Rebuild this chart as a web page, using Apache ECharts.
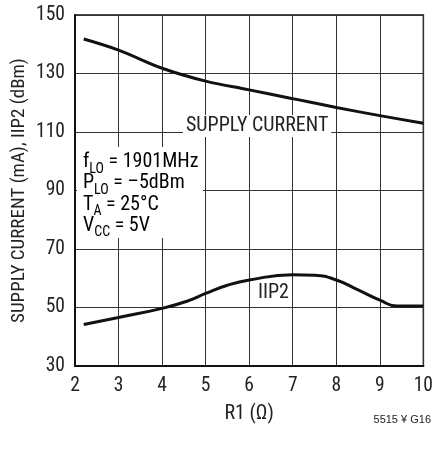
<!DOCTYPE html>
<html><head><meta charset="utf-8">
<script src="https://cdn.jsdelivr.net/npm/echarts@6/dist/echarts.min.js"></script>
<style>html,body{margin:0;padding:0;background:#fff}#c{width:436px;height:449px}</style>
</head><body><div id="c"></div>
<script>
const supplyX = [2.2, 3, 4, 5, 6, 7, 8, 9, 10];
const supplyY = [141.8, 138, 131.8, 127.4, 124.4, 121.4, 118.4, 115.6, 113];
const iip2X = [2.2, 3, 4, 4.6, 5, 5.5, 6, 7, 7.5, 8, 8.5, 9, 9.4, 10];
const iip2Y = [44.2, 46.6, 49.7, 52.3, 54.8, 57.6, 59.4, 61.2, 61, 59.4, 56, 52.5, 50.5, 50.5];
const xTicks = [2, 3, 4, 5, 6, 7, 8, 9, 10];
const yTicks = [30, 50, 70, 90, 110, 130, 150];

const FONT = "'Roboto Condensed', 'Liberation Sans Narrow', sans-serif";
const FOOT = "'Liberation Sans', Arial, sans-serif";
const chart = echarts.init(document.getElementById('c'), null, {renderer: 'canvas'});
const pairs = (xs, ys) => xs.map((x, i) => [x, ys[i]]);

chart.setOption({
  animation: false,
  backgroundColor: '#fff',
  grid: {left: 75, right: 9, top: 15, bottom: 83, show: true, borderColor: '#111', borderWidth: 1.5, backgroundColor: 'transparent'},
  xAxis: {
    type: 'value', min: xTicks[0], max: xTicks[xTicks.length - 1], interval: 1,
    name: 'R1 (Ω)', nameLocation: 'middle', nameGap: 38, nameMoveOverlap: false,
    nameTextStyle: {fontFamily: FONT, fontSize: 20, color: '#222'},
    axisLine: {show: true, lineStyle: {color: '#111', width: 2}},
    axisTick: {show: false},
    axisLabel: {fontFamily: FONT, fontSize: 19.5, color: '#222', margin: 10},
    splitLine: {show: true, lineStyle: {color: '#333', width: 1}}
  },
  yAxis: {
    type: 'value', min: yTicks[0], max: yTicks[yTicks.length - 1], interval: 20,
    name: 'SUPPLY CURRENT (mA), IIP2 (dBm)', nameLocation: 'middle', nameGap: 46, nameMoveOverlap: false,
    nameTextStyle: {fontFamily: FONT, fontSize: 19, color: '#222'},
    axisLine: {show: true, lineStyle: {color: '#111', width: 2}},
    axisTick: {show: false},
    axisLabel: {fontFamily: FONT, fontSize: 19.5, color: '#222', margin: 10},
    splitLine: {show: true, lineStyle: {color: '#333', width: 1}}
  },
  series: [
    {type: 'line', data: pairs(supplyX, supplyY), smooth: 0.4, showSymbol: false,
     lineStyle: {color: '#111', width: 3}, z: 5},
    {type: 'line', data: pairs(iip2X, iip2Y), smooth: 0.5, showSymbol: false,
     lineStyle: {color: '#111', width: 3}, z: 5}
  ],
  graphic: [
    {type: 'rect', z: 100, shape: {x: 77, y: 147, width: 126, height: 91}, style: {fill: '#fff'}},
    {type: 'text', z: 101, left: 83, top: 152, style: {
      text: '{a|f}{s|LO}{a| = 1901MHz}\n{a|P}{s|LO}{a| = –5dBm}\n{a|T}{s|A}{a| = 25°C}\n{a|V}{s|CC}{a| = 5V}',
      rich: {
        a: {fontFamily: FONT, fontSize: 20, color: '#222', lineHeight: 21.3, verticalAlign: 'bottom'},
        s: {fontFamily: FONT, fontSize: 14, color: '#222', lineHeight: 16, verticalAlign: 'bottom', padding: [0, 0, -4, 0]}
      }
    }},
    {type: 'text', z: 101, left: 183, top: 115, style: {
      text: 'SUPPLY CURRENT', fontFamily: FONT, fontSize: 20, fill: '#222',
      backgroundColor: '#fff', padding: [1, 3, 1, 3]
    }},
    {type: 'text', z: 101, left: 258, top: 283, style: {
      text: 'IIP2', fontFamily: FONT, fontSize: 20, fill: '#222'
    }},
    {type: 'text', z: 101, right: 5, top: 414, style: {
      text: '5515 ¥ G16', fontFamily: FOOT, fontSize: 11, fill: '#222'
    }}
  ]
});
</script></body></html>
